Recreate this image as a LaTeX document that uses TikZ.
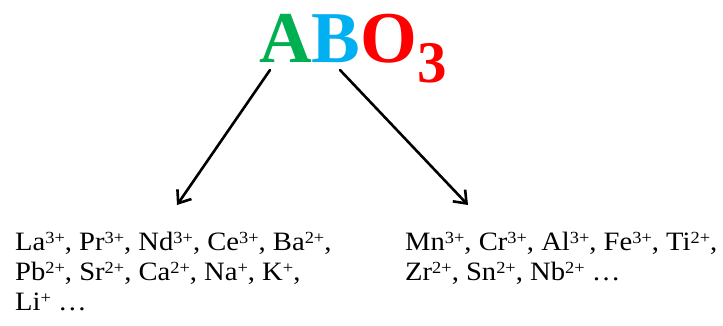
\documentclass[tikz,border=0pt]{standalone}
\usepackage{fontspec}
\setmainfont{Liberation Serif}
\newfontfamily\ionfont[FakeStretch=1.08]{Liberation Serif}
\usetikzlibrary{arrows.meta}
\definecolor{agreen}{RGB}{0,176,80}
\definecolor{bblue}{RGB}{0,176,240}
\definecolor{ored}{RGB}{255,0,0}
\newcommand{\ion}[2]{#1\raisebox{7pt}{\fontsize{17}{17}\selectfont #2}}
\tikzset{
  ionline/.style={anchor=base west, inner sep=0pt, font=\ionfont\fontsize{26.5}{30}\selectfont},
  ionarrow/.style={line width=2.6pt, -{Straight Barb[length=11pt,width=17pt,line width=2.6pt]}, line cap=round}
}
\begin{document}
\begin{tikzpicture}[x=1pt,y=-1pt]
\useasboundingbox[fill=white] (0,0) rectangle (723,325);
\node[anchor=base west, inner sep=0pt, font=\fontsize{73}{73}\selectfont\bfseries] (title) at (259,62)
  {\textcolor{agreen}{A}\textcolor{bblue}{B}\textcolor{ored}{O\raisebox{-20pt}{\fontsize{59}{59}\selectfont 3}}};
\coordinate (astart) at (270,70);
\coordinate (bstart) at (340,70);
\coordinate (atip) at (177,205);
\coordinate (btip) at (468,205);
\draw[ionarrow] (astart) -- (atip);
\draw[ionarrow] (bstart) -- (btip);
\node[ionline] (a1) at (15,250) {\ion{La}{3+}, \ion{Pr}{3+}, \ion{Nd}{3+}, \ion{Ce}{3+}, \ion{Ba}{2+},};
\node[ionline] (a2) at (15,280) {\ion{Pb}{2+}, \ion{Sr}{2+}, \ion{Ca}{2+}, \ion{Na}{+}, \ion{K}{+},};
\node[ionline] (a3) at (15,310) {\ion{Li}{+} \dots};
\node[ionline] (b1) at (405,250) {\ion{Mn}{3+}, \ion{Cr}{3+}, \ion{Al}{3+}, \ion{Fe}{3+}, \ion{Ti}{2+},};
\node[ionline] (b2) at (405,280) {\ion{Zr}{2+}, \ion{Sn}{2+}, \ion{Nb}{2+} \dots};
\end{tikzpicture}
\end{document}
